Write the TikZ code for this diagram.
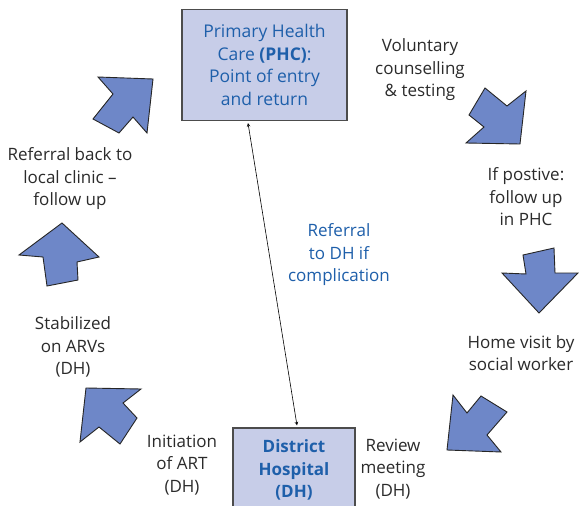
\documentclass[tikz,border=0pt]{standalone}
\usepackage{fontspec}
\setmainfont{Open Sans}
\usetikzlibrary{calc}
\definecolor{arrowfill}{HTML}{6E87C8}
\definecolor{boxfill}{HTML}{C7CDE8}
\definecolor{bluetext}{HTML}{1E5FAA}
\definecolor{graytext}{HTML}{2B2B2B}
\tikzset{
  bigarrow/.style={fill=arrowfill, draw=black!85, line width=0.9pt, line join=miter},
  boxnode/.style={draw=black!70, line width=1.2pt, fill=boxfill, text=bluetext, align=center,
    font=\fontsize{17.5}{22.5}\selectfont},
  label/.style={text=graytext, align=center, font=\fontsize{17}{22.5}\selectfont},
  bluelabel/.style={text=bluetext, align=center, font=\fontsize{17}{22.5}\selectfont},
}
\begin{document}
\begin{tikzpicture}[x=1pt,y=-1pt]
\clip (0,0) rectangle (579,506);
\fill[white] (0,0) rectangle (579,506);

% boxes
\node[boxnode, minimum width=165, minimum height=111] (phc) at (264.5,65)
  {Primary Health\\Care \textbf{(PHC)}:\\Point of entry\\and return};
\node[boxnode, minimum width=122, minimum height=84, font=\bfseries\fontsize{17}{22.5}\selectfont] (dh) at (294,470)
  {District\\Hospital\\(DH)};

% connector
\draw[<->, >=stealth, line width=0.6pt] ($(phc.south)+(-16.5,2)$) -- ($(dh.north)+(3,-2)$);

% labels
\node[label] (vct) at (420,70) {Voluntary\\counselling\\\& testing};
\node[label] (pos) at (526,197) {If postive:\\follow up\\in PHC};
\node[label] (home) at (521,353) {Home visit by\\social worker};
\node[label] (rev) at (393,469) {Review\\meeting\\(DH)};
\node[label] (init) at (182,465) {Initiation\\of ART\\(DH)};
\node[label] (stab) at (73,347) {Stabilized\\on ARVs\\(DH)};
\node[label] (back) at (70,179) {Referral back to\\local clinic –\\follow up};
\node[bluelabel] (ref) at (339,255) {Referral\\to DH if\\complication};

% block arrows
\draw[bigarrow] (98,77) -- (153,79) -- (147,133) -- (133,117) -- (119,133) -- (93,119) -- (113,94) -- cycle;
\draw[bigarrow] (485,88) -- (507,106) -- (526,91) -- (520,144) -- (466,143) -- (484,127) -- (469,115) -- cycle;
\draw[bigarrow] (523,255) -- (554,248) -- (555,273) -- (578,273) -- (539,313) -- (502,273) -- (526,274) -- cycle;
\draw[bigarrow] (453,395) -- (467,413) -- (481,396) -- (507,412) -- (487,435) -- (501,452) -- (447,450) -- cycle;
\draw[bigarrow] (86,388) -- (141,389) -- (123,403) -- (137,418) -- (120,444) -- (99,427) -- (80,442) -- cycle;
\draw[bigarrow] (62,223) -- (99,257) -- (77,262) -- (78,280) -- (47,286) -- (43,257) -- (19,255) -- cycle;
\end{tikzpicture}
\end{document}
